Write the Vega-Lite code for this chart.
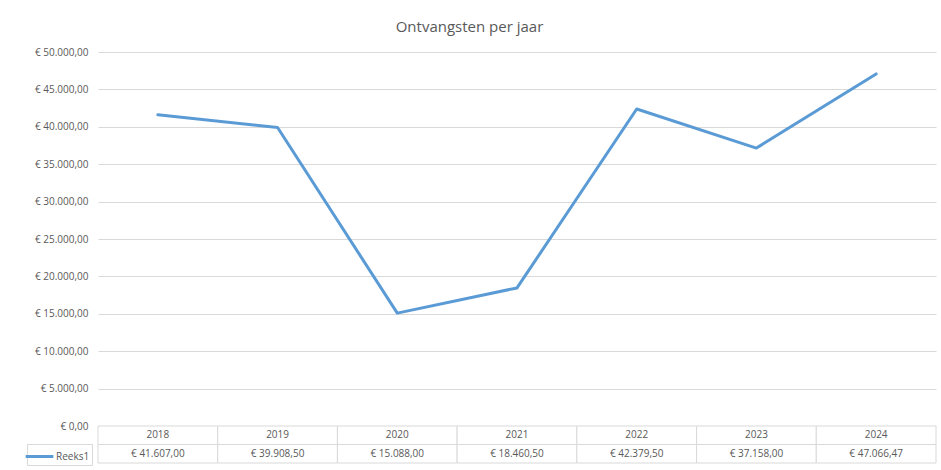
{
  "$schema": "https://vega.github.io/schema/vega-lite/v6.json",
  "padding": {"left": 26, "top": 20, "right": 5, "bottom": 4},
  "background": "white",
  "bounds": "flush",
  "title": {"text": "Ontvangsten per jaar", "anchor": "middle", "frame": "bounds", "fontSize": 15, "font": "Open Sans", "fontWeight": "normal", "color": "#595959", "offset": 12, "dx": -12},
  "config": {
    "locale": {"number": {"decimal": ",", "thousands": ".", "grouping": [3], "currency": ["€ ", ""]}},
    "view": {"stroke": null},
    "font": "Open Sans"
  },
  "data": {"values": [
    {"jaar": "2018", "waarde": 41607.00},
    {"jaar": "2019", "waarde": 39908.50},
    {"jaar": "2020", "waarde": 15088.00},
    {"jaar": "2021", "waarde": 18460.50},
    {"jaar": "2022", "waarde": 42379.50},
    {"jaar": "2023", "waarde": 37158.00},
    {"jaar": "2024", "waarde": 47066.47}
  ]},
  "spacing": 0,
  "vconcat": [
    {
      "width": 838,
      "height": 374,
      "mark": {"type": "line", "strokeWidth": 3, "strokeCap": "round", "strokeJoin": "round"},
      "encoding": {
        "x": {"field": "jaar", "type": "ordinal", "axis": null, "scale": {"paddingInner": 0, "paddingOuter": 0}},
        "y": {"field": "waarde", "type": "quantitative", "scale": {"domain": [0, 50000], "nice": false},
          "axis": {"title": null, "values": [0,5000,10000,15000,20000,25000,30000,35000,40000,45000,50000], "format": "$,.2f", "domain": false, "ticks": false, "labelPadding": 10, "labelFontSize": 10, "labelColor": "#595959", "gridColor": "#d9d9d9", "gridWidth": 1}},
        "color": {"datum": "Reeks1", "type": "nominal", "scale": {"range": ["#5b9bd5"]},
          "legend": {"title": null, "orient": "none", "legendX": -71, "legendY": 392, "symbolType": "M-1.6,0H1.6", "symbolSize": 300, "symbolStrokeWidth": 3, "labelFontSize": 10, "labelColor": "#595959", "strokeColor": "#d9d9d9", "padding": 2, "labelOffset": 6}}
      }
    },
    {
      "width": 838,
      "height": 37,
      "encoding": {
        "x": {"field": "jaar", "type": "ordinal", "axis": null, "scale": {"paddingInner": 0, "paddingOuter": 0}}
      },
      "layer": [
        {"mark": {"type": "rect", "fill": "white", "stroke": "#d9d9d9", "strokeWidth": 1},
          "encoding": {"y": {"datum": "a", "type": "nominal", "axis": null, "scale": {"domain": ["a", "b"], "paddingInner": 0, "paddingOuter": 0}}}},
        {"mark": {"type": "rect", "fill": "white", "stroke": "#d9d9d9", "strokeWidth": 1},
          "encoding": {"y": {"datum": "b", "type": "nominal"}}},
        {"mark": {"type": "text", "fontSize": 10, "color": "#595959"},
          "encoding": {"y": {"datum": "a", "type": "nominal"}, "text": {"field": "jaar"}}},
        {"mark": {"type": "text", "fontSize": 10, "color": "#595959"},
          "encoding": {"y": {"datum": "b", "type": "nominal"}, "text": {"field": "waarde", "type": "quantitative", "format": "$,.2f"}}}
      ]
    }
  ]
}
